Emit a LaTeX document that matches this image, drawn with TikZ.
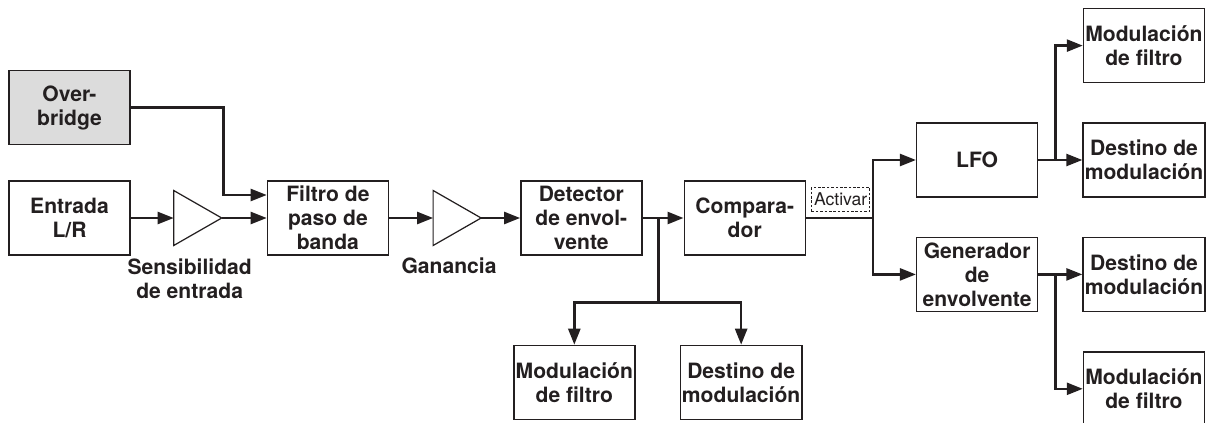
\documentclass[tikz,border=0pt]{standalone}
\usepackage{fontspec}
\setmainfont{TeX Gyre Heros}
\usetikzlibrary{arrows.meta}
\usetikzlibrary{positioning}
\usetikzlibrary{shapes}
\usetikzlibrary{calc}

\definecolor{ink}{HTML}{231F20}
\definecolor{ovbgray}{HTML}{DCDCDC}

\tikzset{
  block/.style={draw=ink, line width=0.8pt, minimum width=2.42cm, minimum height=1.48cm,
    inner sep=1pt, align=center, text=ink, font=\fontsize{12}{13.6}\selectfont\bfseries},
  amp/.style={draw=ink, line width=0.7pt, isosceles triangle, isosceles triangle stretches,
    minimum width=1.1cm, minimum height=0.96cm, inner sep=0pt, outer sep=0pt},
  lbl/.style={align=center, text=ink, inner sep=0pt, font=\fontsize{12}{13.6}\selectfont\bfseries},
  wire/.style={draw=ink, line width=1.4pt},
  sig/.style={wire, -{Triangle[length=0.32cm,width=0.24cm]}},
  trig/.style={draw=ink, dash pattern=on 1.5pt off 1pt, line width=0.6pt, inner sep=1.5pt,
    minimum height=0.48cm, text=ink, font=\fontsize{10}{12}\selectfont}
}

\begin{document}
\begin{tikzpicture}
  \useasboundingbox (0,0) rectangle (24.16,-8.46);
  \clip (0,0) rectangle (24.16,-8.46);

  % input side
  \node[block] (ent) at (1.39,-4.36) {Entrada\\L/R};
  \node[block, fill=ovbgray] (ovb) [above=0.7cm of ent] {Over-\\bridge};
  \node[amp]   (amp1) [right=0.86cm of ent] {};
  \node[block] (flt)  [right=0.9cm of amp1] {Filtro de\\paso de\\banda};
  \node[amp]   (amp2) [right=0.88cm of flt] {};
  \node[block] (det)  [right=0.78cm of amp2] {Detector\\de envol-\\vente};
  \node[block] (cmp)  [right=0.82cm of det] {Compara-\\dor};
  \node[lbl] (sens) [below=0.44cm of amp1] {Sensibilidad\\de entrada};
  \node[lbl] (gan)  [below=0.42cm of amp2] {Ganancia};

  % detector outputs
  \node[block] (mdf)  [below=1.78cm of det, xshift=-0.14cm] {Modulación\\de filtro};
  \node[block] (dst3) [right=0.88cm of mdf] {Destino de\\modulación};

  % comparator outputs
  \node[trig]  (act)  [right=0.1cm of cmp, yshift=0.37cm] {Activar};
  \node[block] (lfo)  [right=2.2cm of cmp, yshift=1.16cm] {LFO};
  \node[block] (gen)  [below=0.78cm of lfo] {Generador\\de\\envolvente};
  \node[block] (dst1) [right=0.88cm of lfo] {Destino de\\modulación};
  \node[block] (mf1)  [above=0.78cm of dst1] {Modulación\\de filtro};
  \node[block] (dst2) [right=0.88cm of gen] {Destino de\\modulación};
  \node[block] (mf2)  [below=0.78cm of dst2] {Modulación\\de filtro};

  \coordinate (sp)  at ([xshift=0.32cm]det.east);
  \coordinate (bus) at ([yshift=0.84cm]mdf.north);
  \coordinate (jn)  at ([xshift=1.34cm]cmp.east);
  \coordinate (ls)  at ([xshift=0.34cm]lfo.east);
  \coordinate (gs)  at ([xshift=0.34cm]gen.east);

  \draw[sig] (ent.east) -- (amp1.west);
  \draw[sig] (amp1.east) -- (amp1.east -| flt.west);
  \draw[sig] (ovb.east) -| ([xshift=0.04cm,yshift=0.46cm]amp1.east) -- ([yshift=0.46cm]flt.west);
  \draw[sig] (flt.east) -- (amp2.west);
  \draw[sig] (amp2.east) -- (amp2.east -| det.west);
  \draw[sig] (det.east) -- (det.east -| cmp.west);
  \draw[sig] (sp) |- (bus) -- (mdf.north);
  \draw[sig] (sp |- bus) -| (dst3.north);

  \draw[wire] (cmp.east) -- (jn);
  \draw[sig] (jn) |- (lfo.west);
  \draw[sig] (jn) |- (gen.west);
  \draw[sig] (lfo.east) -- (dst1.west);
  \draw[sig] (ls) |- (mf1.west);
  \draw[sig] (gen.east) -- (dst2.west);
  \draw[sig] (gs) |- (mf2.west);
\end{tikzpicture}
\end{document}
